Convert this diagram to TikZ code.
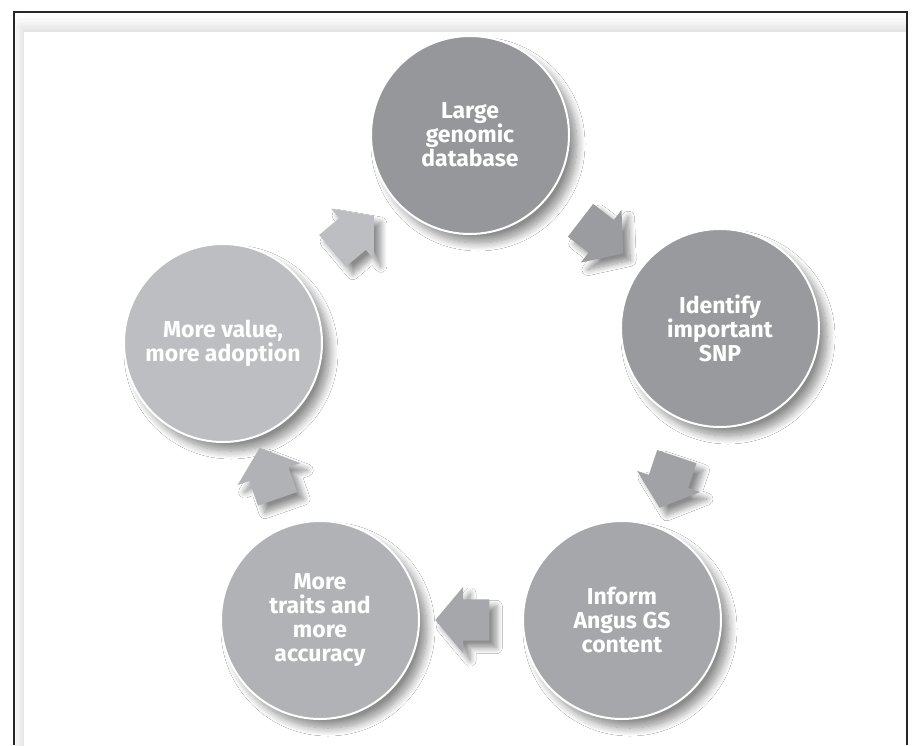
\documentclass[tikz,border=0pt]{standalone}
\usepackage{fontspec}
\setmainfont{Fira Sans}
\usetikzlibrary{shapes.arrows,shadows.blur}

\definecolor{stageA}{RGB}{150,151,154}
\definecolor{stageB}{RGB}{153,154,157}
\definecolor{stageC}{RGB}{166,167,170}
\definecolor{stageD}{RGB}{177,178,181}
\definecolor{stageE}{RGB}{189,190,193}

\tikzset{
  stage/.style={circle, minimum size=198pt, inner sep=0pt, draw=white, line width=2pt,
    text=white, align=center, font=\fontsize{23}{24}\selectfont\bfseries,
    blur shadow={shadow xshift=8pt, shadow yshift=-9pt, shadow blur radius=8pt,
      shadow blur steps=12, shadow opacity=45}},
  flow/.style={single arrow, sloped, allow upside down, inner xsep=0pt, inner ysep=20.5pt,
    minimum height=54pt, single arrow head extend=12.5pt,
    single arrow tip angle=100,
    blur shadow={shadow xshift=7pt, shadow yshift=-7pt, shadow blur radius=6pt,
      shadow blur steps=10, shadow opacity=45}}
}

\begin{document}
\begin{tikzpicture}[x=1pt,y=-1pt]
  \useasboundingbox (0,0) rectangle (915,745);
  % panel and frame
  \begin{scope}
    \clip (14,12) rectangle (907,745);
    \fill[white, blur shadow={shadow xshift=-3pt, shadow yshift=5pt, shadow blur radius=12pt, shadow opacity=15}]
      (24,32) rectangle (930,800);
  \end{scope}
  \draw[line width=1.3pt, black!85] (14,745) -- (14,12) -- (907,12) -- (907,745);

  % the five stages
  \node[stage, fill=stageA] (base) at (470,135) {Large\\genomic\\database};
  \node[stage, fill=stageB] (snp) at (720,328) {Identify\\important\\SNP};
  \node[stage, fill=stageC] (angus) at (622,620) {Inform\\Angus GS\\content};
  \node[stage, fill=stageD] (traits) at (320,620) {More\\traits and\\more\\accuracy};
  \node[stage, fill=stageE] (value) at (223,343) {More value,\\more adoption};

  % arrows between them
  \path (base) -- node[flow, fill=stageA!95!white] (f1) {} (snp);
  \path (snp) -- node[flow, fill=stageB!92!white] (f2) {} (angus);
  \path (angus) -- node[flow, fill=stageC] (f3) {} (traits);
  \path (traits) -- node[flow, fill=stageD] (f4) {} (value);
  \path (value) -- node[flow, fill=stageE] (f5) {} (base);
\end{tikzpicture}
\end{document}
